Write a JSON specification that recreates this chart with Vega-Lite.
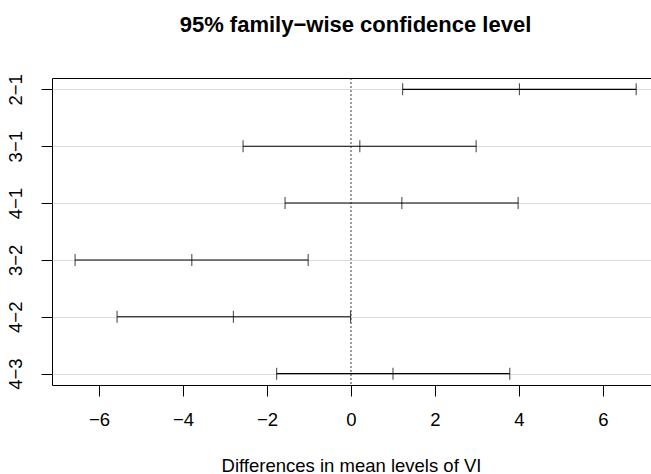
{
  "$schema": "https://vega.github.io/schema/vega-lite/v6.json",
  "autosize": "none",
  "padding": {"left": 52, "top": 78, "right": 0, "bottom": 89},
  "width": 599,
  "height": 307,
  "background": "white",
  "title": {
    "text": "95% family−wise confidence level",
    "font": "Liberation Sans",
    "fontSize": 22,
    "fontWeight": "bold",
    "color": "black",
    "anchor": "middle",
    "baseline": "alphabetic",
    "dx": 4,
    "offset": 20
  },
  "data": {
    "values": [
      {"comparison": "2−1", "lwr": 1.23, "diff": 4.01, "upr": 6.79},
      {"comparison": "3−1", "lwr": -2.57, "diff": 0.21, "upr": 2.98},
      {"comparison": "4−1", "lwr": -1.57, "diff": 1.21, "upr": 3.98},
      {"comparison": "3−2", "lwr": -6.57, "diff": -3.79, "upr": -1.02},
      {"comparison": "4−2", "lwr": -5.57, "diff": -2.8, "upr": -0.01},
      {"comparison": "4−3", "lwr": -1.77, "diff": 1.0, "upr": 3.78}
    ]
  },
  "encoding": {
    "y": {
      "field": "comparison",
      "type": "nominal",
      "sort": null,
      "scale": {"type": "point", "padding": 0.2},
      "axis": {
        "title": null,
        "labelAngle": 270,
        "labelAlign": "center",
        "labelBaseline": "alphabetic",
        "labelPadding": 20,
        "labelFont": "Liberation Sans",
        "labelFontSize": 18.5,
        "labelColor": "black",
        "tickSize": 11,
        "tickColor": "black",
        "domain": false,
        "grid": true,
        "gridColor": "#d3d3d3",
        "gridWidth": 0.8
      }
    }
  },
  "layer": [
    {
      "mark": {"type": "rule", "color": "black", "strokeWidth": 1.1},
      "encoding": {
        "x": {
          "field": "lwr",
          "type": "quantitative",
          "scale": {"domain": [-7.119, 7.143], "nice": false, "zero": false},
          "axis": {
            "title": "Differences in mean levels of VI",
            "titleFont": "Liberation Sans",
            "titleFontSize": 18.5,
            "titleFontWeight": "normal",
            "titleColor": "black",
            "titleBaseline": "alphabetic",
            "titleY": 86,
            "titleX": 299,
            "titleAnchor": "middle",
            "values": [-6, -4, -2, 0, 2, 4, 6],
            "labelFont": "Liberation Sans",
            "labelFontSize": 18.5,
            "labelColor": "black",
            "labelBaseline": "top",
            "labelPadding": 14,
            "labelFlush": false,
            "labelOverlap": false,
            "tickSize": 11,
            "tickColor": "black",
            "domain": false,
            "grid": false
          }
        },
        "x2": {"field": "upr"}
      }
    },
    {
      "transform": [{"fold": ["lwr", "diff", "upr"], "as": ["stat", "value"]}],
      "mark": {"type": "tick", "color": "black", "size": 12, "thickness": 1.1},
      "encoding": {
        "x": {"field": "value", "type": "quantitative"}
      }
    },
    {
      "data": {"values": [{}]},
      "mark": {"type": "rule", "color": "#222222", "strokeWidth": 0.9, "strokeDash": [2, 2]},
      "encoding": {
        "x": {"datum": 0, "type": "quantitative"},
        "y": null
      }
    }
  ],
  "config": {
    "view": {"stroke": "black", "strokeWidth": 1},
    "axis": {"domain": false}
  }
}
